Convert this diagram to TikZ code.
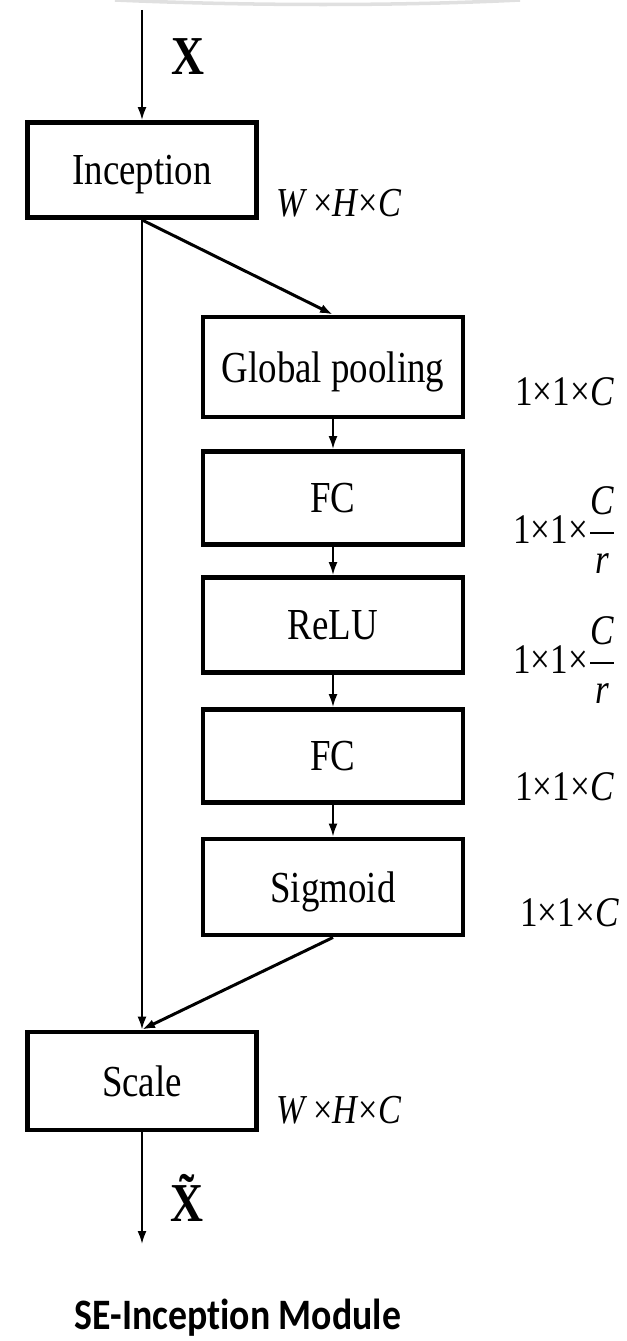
\documentclass[tikz,border=0pt]{standalone}
\usepackage{amsmath}
\usepackage{fontspec}
\usepackage{graphicx}
\setmainfont{Liberation Serif}
\newfontfamily\titlefont[Ligatures=CommonOff]{Carlito}
\usetikzlibrary{arrows.meta}
\newcommand{\tallbox}[1]{\scalebox{1}[1.2]{#1}}

\begin{document}
\begin{tikzpicture}[x=0.02cm,y=-0.02cm,
  blk/.style={draw,line width=2.8pt,inner sep=0pt,text depth=0pt,minimum height=1.9cm,font=\fontsize{21}{25}\selectfont},
  mainblk/.style={blk,minimum width=4.58cm},
  sideblk/.style={blk,minimum width=5.2cm},
  dimlabel/.style={anchor=west,inner sep=0pt,font=\fontsize{20}{24}\selectfont},
  flow/.style={->,line width=1.1pt},
  skew/.style={->,line width=1.7pt},
  >={Latex[length=0.26cm,width=0.18cm]}]
\useasboundingbox (0,0) rectangle (626,1341);
\draw[black!12,line width=2pt] (115,0) .. controls (250,6) and (400,6) .. (520,0);

\node[mainblk] (inc) at (142,170) {\tallbox{Inception}};
\node[sideblk,minimum height=2cm] (gp) at (333,367) {\tallbox{Global pooling}};
\node[sideblk,minimum height=1.86cm] (fc1) at (333,498) {\tallbox{FC}};
\node[sideblk] (relu) at (333,625) {\tallbox{ReLU}};
\node[sideblk,minimum height=1.86cm] (fc2) at (333,756) {\tallbox{FC}};
\node[sideblk,minimum height=1.92cm] (sig) at (333,887) {\tallbox{Sigmoid}};
\node[mainblk,minimum height=1.96cm] (scl) at (142,1081) {\tallbox{Scale}};

% sizes at the right
\node[dimlabel,font=\fontsize{19.5}{24}\selectfont] (dinc) at (276,203) {\tallbox{\textit{W}\,×\textit{H}×\textit{C}}};
\node[dimlabel] (dgp) at (515,392) {\tallbox{1×1×\textit{C}}};
\node[dimlabel] (dfc1) at (513,530) {\tallbox{1×1×$\dfrac{\textit{C}}{\textit{r}}$}};
\node[dimlabel] (drelu) at (513,660) {\tallbox{1×1×$\dfrac{\textit{C}}{\textit{r}}$}};
\node[dimlabel] (dfc2) at (515,787) {\tallbox{1×1×\textit{C}}};
\node[dimlabel] (dsig) at (520,913) {\tallbox{1×1×\textit{C}}};
\node[dimlabel,font=\fontsize{19.5}{24}\selectfont] (dscl) at (276,1110) {\tallbox{\textit{W}\,×\textit{H}×\textit{C}}};

\node[font=\fontsize{26}{30}\selectfont\bfseries] (xin) at (188,57) {\tallbox{X}};
\node[font=\fontsize{26}{30}\selectfont\bfseries] (xout) at (187,1198) {\tallbox{\~{X}}};
\node[font=\titlefont\bfseries\fontsize{21.5}{25}\selectfont] (ttl) at (238,1318) {\scalebox{1}[1.15]{SE-Inception Module}};

\coordinate (xtop) at (142,10);
\coordinate (xbot) at (142,1244);

\draw[flow] (xtop) -- (inc.north);
\draw[flow] (inc.south) -- (scl.north);
\draw[skew] (inc.south) -- (gp.north);
\foreach \a/\b in {gp/fc1,fc1/relu,relu/fc2,fc2/sig}
  \draw[flow] (\a.south) -- (\b.north);
\draw[skew] (sig.south) -- (scl.north);
\draw[flow] (scl.south) -- (xbot);

\end{tikzpicture}
\end{document}
